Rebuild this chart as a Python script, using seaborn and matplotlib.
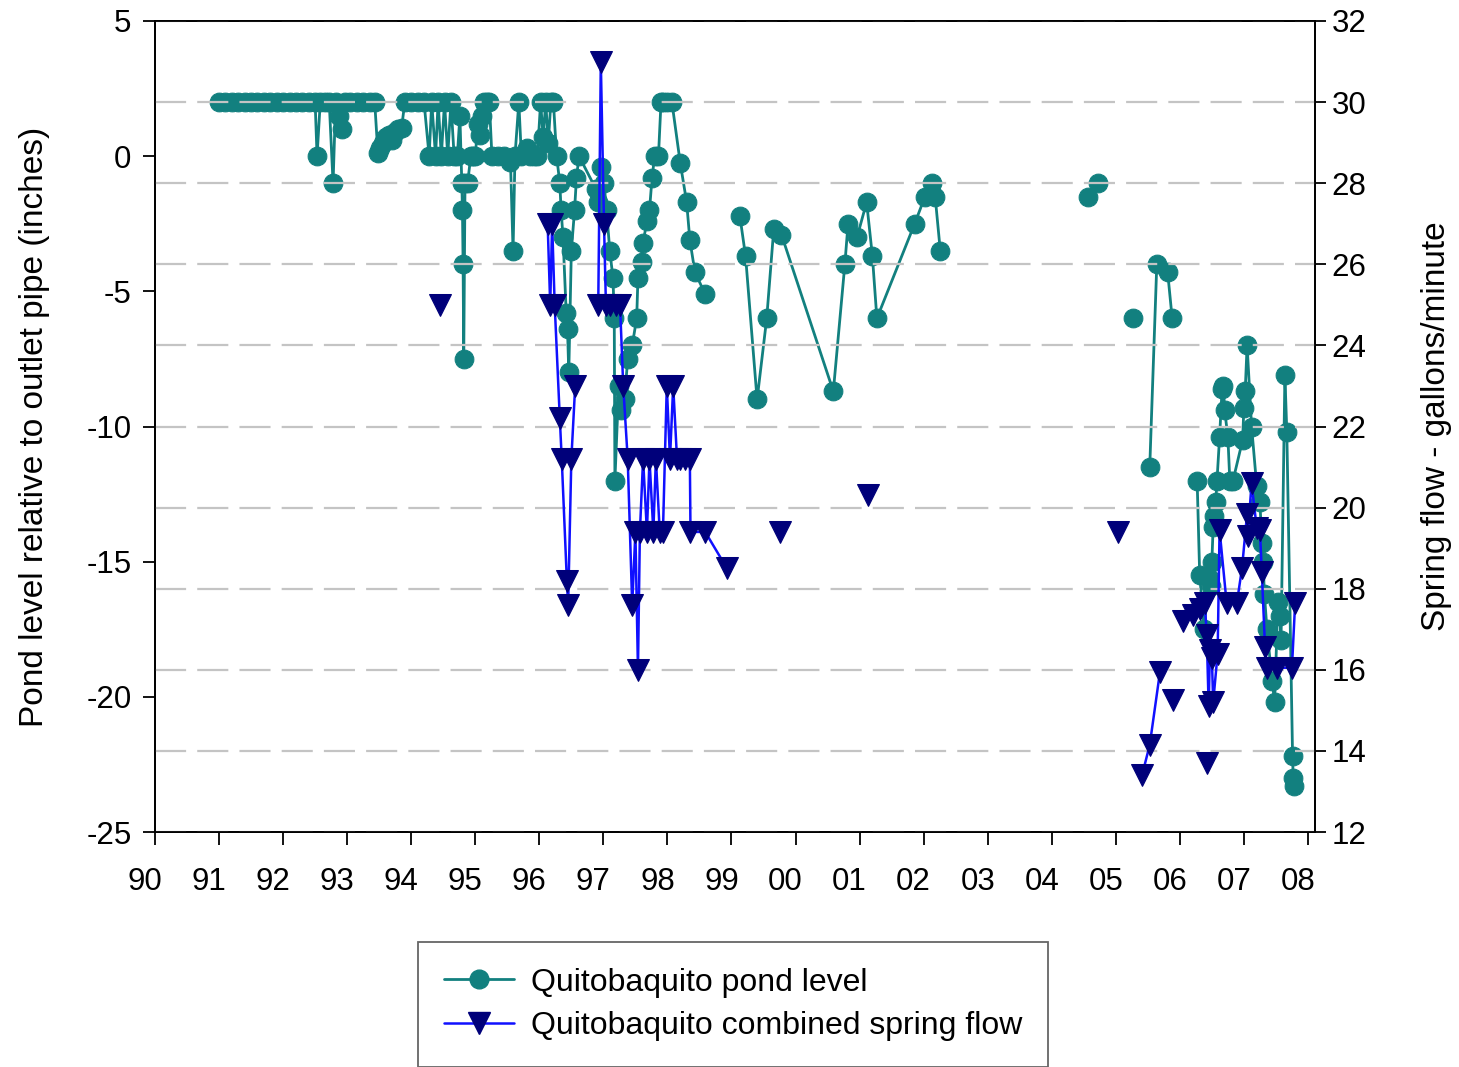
import numpy as np
import pandas as pd
import matplotlib
matplotlib.use("Agg")
import matplotlib.pyplot as plt
import matplotlib.transforms as mtransforms
from matplotlib.lines import Line2D
import seaborn as sns

# pond level (inches relative to outlet pipe); nan = break in the line
pond_year = [1991.0, 1991.1, 1991.2, 1991.3, 1991.4, 1991.5, 1991.6, 1991.7, 1991.8, 1991.9,
             1992.0, 1992.1, 1992.2, 1992.3, 1992.4, 1992.5, 1992.53, 1992.58, 1992.65, 1992.72,
             1992.78, 1992.82, 1992.88, 1992.92, 1992.97, 1993.05, 1993.15, 1993.25, 1993.35, 1993.43,
             1993.48, 1993.52, 1993.56, 1993.6, 1993.65, 1993.7, 1993.75, 1993.8, 1993.85, 1993.9,
             1994.0, 1994.1, 1994.2, 1994.28, 1994.32, 1994.38, 1994.42, 1994.47, 1994.52, 1994.57,
             1994.62, 1994.67, 1994.72, 1994.76, 1994.79, 1994.8, 1994.81, 1994.82, 1994.84, 1994.88,
             1994.93, 1994.96, 1995.0, 1995.04, 1995.07, 1995.1, 1995.13, 1995.18, 1995.22, 1995.26,
             1995.35, 1995.45, 1995.55, 1995.59, 1995.62, 1995.68, 1995.72, 1995.8, 1995.86, 1995.92,
             1995.97, 1996.02, 1996.06, 1996.1, 1996.14, 1996.18, 1996.22, 1996.27, 1996.32, 1996.34,
             1996.37, 1996.42, 1996.44, 1996.46, 1996.5, 1996.55, 1996.58, 1996.62,
             1996.88, 1996.92, 1996.97, 1997.01, 1997.05, 1997.1, 1997.15, 1997.17, 1997.18, 1997.24,
             1997.28, 1997.33, 1997.38, 1997.45, 1997.52, 1997.54, 1997.6, 1997.62, 1997.68, 1997.72,
             1997.76, 1997.8, 1997.86, 1997.9, 1997.93, 1998.0, 1998.07, 1998.2, 1998.3, 1998.35,
             1998.43, 1998.59, np.nan,
             1999.13, 1999.22, 1999.4, 1999.55, 1999.66, 1999.78, 2000.59, 2000.77, 2000.82, 2000.96,
             2001.11, 2001.2, 2001.27, 2001.86, 2002.02, 2002.13, 2002.18, 2002.26, np.nan,
             2004.56, 2004.72, np.nan, 2005.27, np.nan,
             2005.53, 2005.64, 2005.81, 2005.88, np.nan,
             2006.27, 2006.31, 2006.38, 2006.45, 2006.48, 2006.5, 2006.52, 2006.54, 2006.56, 2006.58,
             2006.62, 2006.66, 2006.68, 2006.7, 2006.75, 2006.78, 2006.83, 2006.98, 2007.0, 2007.02,
             2007.05, 2007.12, 2007.2, 2007.25, 2007.28, 2007.3, 2007.32, 2007.36, 2007.44, 2007.48,
             2007.53, 2007.56, 2007.58, 2007.64, 2007.67, 2007.76, 2007.77, 2007.78]
pond_level = [2, 2, 2, 2, 2, 2, 2, 2, 2, 2,
              2, 2, 2, 2, 2, 2, 0, 2, 2, 2,
              -1, 2, 1.5, 1.0, 2, 2, 2, 2, 2, 2,
              0.1, 0.3, 0.5, 0.7, 0.8, 0.6, 0.9, 1.0, 1.05, 2,
              2, 2, 2, 0, 2, 0, 2, 0, 2, 0,
              2, 0, 0, 1.5, -1, -2, -4, -7.5, -1, -1,
              0, 0, 0, 1.2, 0.8, 1.5, 2, 2, 2, 0,
              0, 0, -0.2, -3.5, 0, 2, 0, 0.3, 0, 0,
              0, 2, 0.7, 2, 0.5, 2, 2, 0, -1, -2,
              -3, -5.8, -6.4, -8, -3.5, -2, -0.8, 0,
              -1.2, -1.7, -0.4, -1.0, -2, -3.5, -4.5, -6, -12, -8.5,
              -9.4, -9, -7.5, -7, -6, -4.5, -3.9, -3.2, -2.4, -2,
              -0.8, 0, 0, 2, 2, 2, 2, -0.25, -1.7, -3.1,
              -4.3, -5.1, np.nan,
              -2.2, -3.7, -9, -6, -2.7, -2.9, -8.7, -4, -2.5, -3.0,
              -1.7, -3.7, -6, -2.5, -1.5, -1, -1.5, -3.5, np.nan,
              -1.5, -1, np.nan, -6, np.nan,
              -11.5, -4, -4.3, -6, np.nan,
              -12, -15.5, -17.5, -15.6, -15.9, -15, -13.7, -13.3, -12.8, -12,
              -10.4, -8.6, -8.5, -9.4, -10.4, -12, -12, -10.5, -9.3, -8.7,
              -7, -10, -12.2, -12.8, -14.3, -15, -16.2, -17.5, -19.4, -20.2,
              -16.5, -17, -17.9, -8.1, -10.2, -22.2, -23, -23.3]

# combined spring flow (gallons/minute); nan = break in the line
flow_year = [1994.45, np.nan,
             1996.13, 1996.17, 1996.2, 1996.24, 1996.32, 1996.35, 1996.43, 1996.45, 1996.5, 1996.56, np.nan,
             1996.92, 1996.96, 1997.01, 1997.04, 1997.1, 1997.2, 1997.26, 1997.31, 1997.38, 1997.45,
             1997.5, 1997.54, 1997.57, 1997.62, 1997.68, 1997.72, 1997.78, 1997.82, 1997.88, 1997.93,
             1997.99, 1998.04, 1998.09, 1998.15, 1998.2, 1998.28, 1998.35, 1998.36, 1998.59, 1998.93, np.nan,
             1999.76, np.nan, 2001.13, np.nan, 2005.03, np.nan,
             2005.41, 2005.53, 2005.69, np.nan, 2005.89, np.nan, 2006.42, np.nan,
             2006.05, 2006.2, 2006.31, 2006.39, 2006.42, 2006.45, 2006.47, 2006.5, 2006.52, 2006.59,
             2006.62, 2006.73, 2006.89, 2006.97, 2007.05, 2007.06, 2007.12, 2007.2, 2007.25, 2007.28,
             2007.33, 2007.36, 2007.52, 2007.75, 2007.8]
flow_gpm = [25.0, np.nan,
            27.0, 25.0, 27.0, 25.0, 22.2, 21.2, 18.2, 17.6, 21.2, 23.0, np.nan,
            25.0, 31.0, 27.0, 25.0, 25.0, 25.0, 25.0, 23.0, 21.2, 17.6,
            19.4, 16.0, 19.4, 21.2, 19.4, 21.2, 19.4, 21.2, 19.4, 19.4,
            23.0, 21.2, 23.0, 21.2, 21.2, 21.2, 21.2, 19.4, 19.4, 18.5, np.nan,
            19.4, np.nan, 20.3, np.nan, 19.4, np.nan,
            13.4, 14.15, 15.95, np.nan, 15.25, np.nan, 13.7, np.nan,
            17.2, 17.35, 17.5, 17.65, 16.85, 15.1, 16.5, 16.3, 15.2, 16.4,
            19.45, 17.65, 17.65, 18.5, 19.85, 19.3, 20.6, 19.5, 19.45, 18.4,
            16.55, 16.05, 16.05, 16.05, 17.65]

teal = "#12807f"
navy = "#00007a"
blue = "#1010ff"


def segments(years, values):
    df = pd.DataFrame({"year": years, "value": values})
    df["seg"] = df["value"].isna().cumsum()
    return df.dropna()


pond = segments(pond_year, pond_level)
flow = segments(flow_year, flow_gpm)

sns.set_style("ticks")
plt.rcParams["font.family"] = ["Liberation Sans", "DejaVu Sans"]
for k in ["text.color", "axes.labelcolor", "xtick.color", "ytick.color"]:
    plt.rcParams[k] = "black"

fig = plt.figure(figsize=(14.59, 10.67), dpi=100)
ax = fig.add_axes([155 / 1459, 1 - 832 / 1067, (1315 - 155) / 1459, (832 - 21) / 1067])
ax2 = ax.twinx()

sns.lineplot(data=pond, x="year", y="value", units="seg", estimator=None, sort=False,
             color=teal, marker="o", markersize=13.5, markeredgecolor=teal,
             markerfacecolor=teal, linewidth=2, ax=ax, legend=False)

ax2.set_ylim(12, 32)
ax2.set_yticks(np.arange(12, 33, 2))
ax2.yaxis.grid(True, color="#c4c4c4", linestyle=(0, (14, 5)), linewidth=1.6)
ax2.set_axisbelow(True)
sns.lineplot(data=flow, x="year", y="value", units="seg", estimator=None, sort=False,
             color=blue, marker="v", markersize=15.5, markeredgecolor=navy,
             markerfacecolor=navy, linewidth=1.8, ax=ax2, legend=False)

ax.set_xlim(1990, 2008.11)
ax.set_ylim(-25, 5)
ax.set_yticks([5, 0, -5, -10, -15, -20, -25])
ax.set_yticklabels(["5", "0", "-5", "-10", "-15", "-20", "-25"])
years = np.arange(1990, 2009)
ax.set_xticks(years)
ax.set_xticklabels([f"{y % 100:02d}" for y in years])

for a in (ax, ax2):
    for s in a.spines.values():
        s.set_color("black")
        s.set_linewidth(1.3)
ax.tick_params(axis="x", direction="out", length=9, width=1.3, labelsize=22.5, pad=16, colors="black")
ax.tick_params(axis="y", direction="out", length=9, width=1.3, labelsize=22.5, pad=8, colors="black")
ax2.tick_params(axis="y", direction="out", length=8, width=1.3, labelsize=22.5, pad=4, colors="black")

shift = mtransforms.ScaledTranslation(-10 / 100, 0, fig.dpi_scale_trans)
for lab in ax.get_xticklabels():
    lab.set_transform(lab.get_transform() + shift)

ax.set_xlabel("")
ax.set_ylabel("Pond level relative to outlet pipe (inches)", fontsize=24, labelpad=26)
ax2.set_ylabel("Spring flow - gallons/minute", fontsize=24, labelpad=39)

handles = [
    Line2D([], [], color=teal, marker="o", markersize=13.5, markerfacecolor=teal,
           markeredgecolor=teal, linewidth=2),
    Line2D([], [], color=blue, marker="v", markersize=15.5, markerfacecolor=navy,
           markeredgecolor=navy, linewidth=1.8),
]
leg = fig.legend(handles, ["Quitobaquito pond level", "Quitobaquito combined spring flow"],
                 loc="upper left", bbox_to_anchor=(418 / 1459, 1 - 942 / 1067),
                 borderaxespad=0, fontsize=23, frameon=True, fancybox=False, borderpad=0.8,
                 handlelength=2.2, handletextpad=0.55, labelspacing=0.42)
leg.get_frame().set_edgecolor("#404040")
leg.get_frame().set_linewidth(1.3)

fig.savefig("out.png", dpi=100, facecolor="white")
